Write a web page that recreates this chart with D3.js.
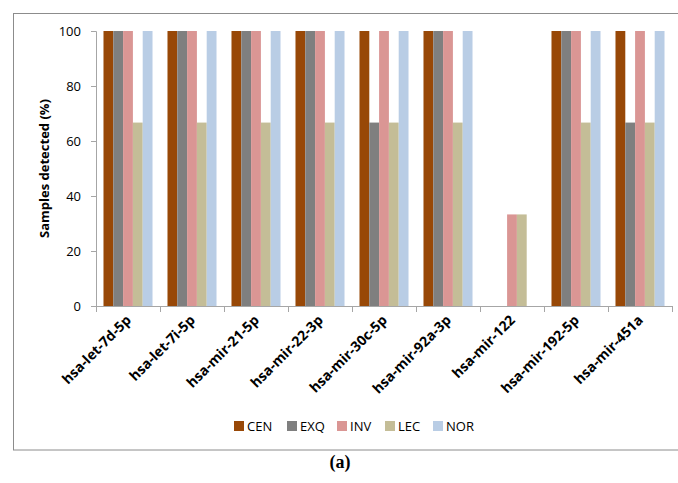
<!DOCTYPE html>
<html>
<head>
<meta charset="utf-8">
<script src="https://cdn.jsdelivr.net/npm/d3@7"></script>
<style>
  html, body { margin: 0; padding: 0; background: #fff; }
  svg { display: block; }
</style>
</head>
<body>
<svg id="chart" width="678" height="483"></svg>
<script>
// miRNA detection rate per group (% of samples)
const categories = ["hsa-let-7d-5p", "hsa-let-7i-5p", "hsa-mir-21-5p", "hsa-mir-22-3p",
  "hsa-mir-30c-5p", "hsa-mir-92a-3p", "hsa-mir-122", "hsa-mir-192-5p", "hsa-mir-451a"];
const seriesNames = ["CEN", "EXQ", "INV", "LEC", "NOR"];
const CEN = [100, 100, 100, 100, 100, 100, 0, 100, 100];
const EXQ = [100, 100, 100, 100, 66.7, 100, 0, 100, 66.7];
const INV = [100, 100, 100, 100, 100, 100, 33.3, 100, 100];
const LEC = [66.7, 66.7, 66.7, 66.7, 66.7, 66.7, 33.3, 66.7, 66.7];
const NOR = [100, 100, 100, 100, 100, 100, 0, 100, 100];
const yTicks = [0, 20, 40, 60, 80, 100];
const colors = ["#984807", "#7f7f7f", "#da9694", "#c4bd97", "#b9cde5"];

const seriesValues = [CEN, EXQ, INV, LEC, NOR];
const rows = categories.map((c, i) => ({
  cat: c,
  vals: seriesNames.map((s, j) => ({ key: s, value: seriesValues[j][i] }))
}));

const svg = d3.select("#chart");
const font = "Open Sans, Noto Sans, sans-serif";

// outer frame
svg.append("rect")
  .attr("x", 13.5).attr("y", 13.5)
  .attr("width", 700).attr("height", 436.5)
  .attr("fill", "none").attr("stroke", "#8c8c8c").attr("stroke-width", 1);

const plot = { left: 96, right: 672, top: 31, bottom: 306 };

const x = d3.scaleBand().domain(categories).range([plot.left, plot.right])
  .paddingInner(0.234).paddingOuter(0.117);
const x1 = d3.scaleBand().domain(seriesNames).range([0, x.bandwidth()]);
const y = d3.scaleLinear().domain([0, 100]).range([plot.bottom, plot.top]);

// bars
const groups = svg.append("g").selectAll("g").data(rows).join("g")
  .attr("transform", d => `translate(${x(d.cat)},0)`);
groups.selectAll("rect").data(d => d.vals).join("rect")
  .attr("x", d => x1(d.key))
  .attr("y", d => y(d.value))
  .attr("width", x1.bandwidth())
  .attr("height", d => plot.bottom - y(d.value))
  .attr("fill", (d, i) => colors[i]);

// y axis
const yAxis = svg.append("g").attr("transform", `translate(${plot.left},0)`)
  .call(d3.axisLeft(y).tickValues(yTicks).tickSize(5).tickPadding(10));
yAxis.select(".domain").attr("stroke", "#a6a6a6");
yAxis.selectAll(".tick line").attr("stroke", "#a6a6a6");
yAxis.selectAll(".tick text").attr("font-family", font).attr("font-size", 13).attr("fill", "#000");

// x axis: ticks at category boundaries
const xg = svg.append("g");
xg.append("line").attr("x1", plot.left).attr("x2", plot.right)
  .attr("y1", plot.bottom + 0.5).attr("y2", plot.bottom + 0.5)
  .attr("stroke", "#a6a6a6");
const boundaries = categories.map(c => x(c) - x.step() * x.paddingInner() / 2).concat([plot.right]);
xg.selectAll("line.tk").data(boundaries).join("line").attr("class", "tk")
  .attr("x1", d => Math.round(d) + 0.5).attr("x2", d => Math.round(d) + 0.5)
  .attr("y1", plot.bottom).attr("y2", plot.bottom + 6).attr("stroke", "#a6a6a6");
xg.selectAll("text").data(categories).join("text")
  .attr("transform", d => `translate(${x(d) + x.bandwidth() / 2 + 4},${plot.bottom + 15}) rotate(-45)`)
  .attr("text-anchor", "end")
  .attr("font-family", font).attr("font-size", 14).attr("font-weight", "bold")
  .attr("fill", "#000")
  .text(d => d);

// y label
svg.append("text")
  .attr("transform", `translate(49,${(plot.top + plot.bottom) / 2}) rotate(-90)`)
  .attr("text-anchor", "middle")
  .attr("font-family", font).attr("font-size", 13).attr("font-weight", "bold")
  .text("Samples detected (%)");

// legend
const legendX = [234, 287, 337, 385, 433];
const lg = svg.append("g").selectAll("g").data(seriesNames).join("g")
  .attr("transform", (d, i) => `translate(${legendX[i]},421)`);
lg.append("rect").attr("width", 10).attr("height", 10).attr("fill", (d, i) => colors[i]);
lg.append("text").attr("x", 13).attr("y", 10)
  .attr("font-family", font).attr("font-size", 13).text(d => d);

// panel label
svg.append("text")
  .attr("x", 340).attr("y", 468).attr("text-anchor", "middle")
  .attr("font-family", "Liberation Serif, serif").attr("font-size", 18).attr("font-weight", "bold")
  .text("(a)");
</script>
</body>
</html>
